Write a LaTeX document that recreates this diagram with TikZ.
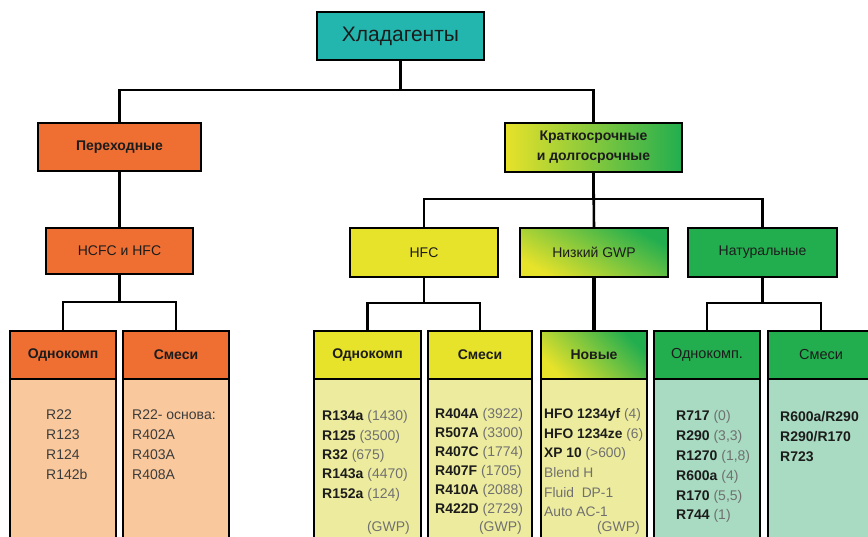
\documentclass[tikz,border=0pt]{standalone}
\usepackage{fontspec}
\setmainfont{Liberation Sans}

\definecolor{tealhdr}{HTML}{22B6AE}
\definecolor{orangehdr}{HTML}{EF6F33}
\definecolor{orangebody}{HTML}{F9C89C}
\definecolor{yellowhdr}{HTML}{E7E22A}
\definecolor{yellowbody}{HTML}{EDEC9E}
\definecolor{greenhdr}{HTML}{22AE4F}
\definecolor{greenbody}{HTML}{A8DBC1}
\definecolor{numgray}{HTML}{707070}
\definecolor{txtgray}{HTML}{3C3C3C}
\definecolor{inkdark}{HTML}{1C1C1C}

\newcommand{\refr}[2]{\textbf{#1} \textcolor{numgray}{#2}}

\tikzset{
  box/.style={draw, line width=2.6pt, minimum height=48pt, inner sep=0pt, outer sep=0pt, text=inkdark,
    font=\fontsize{14}{20}\selectfont},
  link/.style={line width=2.6pt},
  hdr/.style={box, minimum width=106pt, anchor=south, font=\fontsize{14}{16}\selectfont\bfseries},
  body/.style={box, minimum width=106pt, minimum height=180pt, anchor=north},
  listtext/.style={anchor=north west, inner sep=0pt, align=left, text=inkdark},
  gwpnote/.style={anchor=east, inner sep=0pt, text=numgray, font=\fontsize{14}{16}\selectfont},
}

\begin{document}
\begin{tikzpicture}[x=1pt, y=-1pt]
  \clip (0,0) rectangle (868,536);

  % upper levels
  \node[box, fill=tealhdr, minimum width=167pt, font=\fontsize{21}{24}\selectfont] (root) at (400.5,36) {Хладагенты};
  \node[box, fill=orangehdr, minimum width=163pt, font=\fontsize{14}{16}\selectfont\bfseries] (trans) at (119.5,147) {Переходные};
  \node[box, fill=orangehdr, minimum width=147pt, minimum height=46pt] (hcfc) at (119.5,251) {HCFC и HFC};
  \node[box, left color=yellowhdr, right color=greenhdr, minimum width=177pt, minimum height=49pt, align=center,
    font=\fontsize{14}{20}\selectfont\bfseries] (kd) at (593.5,147.5) {Краткосрочные\\и долгосрочные};
  \node[box, fill=yellowhdr, minimum width=148pt, minimum height=49pt] (hfc) at (424,252.5) {HFC};
  \node[box, left color=yellowhdr, middle color=greenhdr!85!yellowhdr, right color=greenhdr, shading angle=150,
    minimum width=148pt, minimum height=49pt] (gwp) at (594,252.5) {Низкий GWP};
  \node[box, fill=greenhdr, minimum width=149pt, minimum height=49pt] (nat) at (762.5,252.5) {Натуральные};

  % lower level: bodies first, headers on top
  \node[body, fill=orangebody] (ob1) at (63,379) {};
  \node[body, fill=orangebody] (ob2) at (176,379) {};
  \node[body, fill=yellowbody, minimum width=107pt] (yb1) at (367.5,379) {};
  \node[body, fill=yellowbody, minimum width=104pt] (yb2) at (480,379) {};
  \node[body, fill=yellowbody] (nb) at (594,379) {};
  \node[body, fill=greenbody] (gb1) at (707,379) {};
  \node[body, fill=greenbody] (gb2) at (821,379) {};

  \node[hdr, fill=orangehdr] (oh1) at (ob1.north) {Однокомп};
  \node[hdr, fill=orangehdr] (oh2) at (ob2.north) {Смеси};
  \node[hdr, fill=yellowhdr, minimum width=107pt] (yh1) at (yb1.north) {Однокомп};
  \node[hdr, fill=yellowhdr, minimum width=104pt] (yh2) at (yb2.north) {Смеси};
  \node[hdr, left color=yellowhdr, middle color=greenhdr!75!yellowhdr, right color=greenhdr, shading angle=135] (nh) at (nb.north) {Новые};
  \node[hdr, fill=greenhdr, font=\fontsize{14.5}{16}\selectfont] (gh1) at (gb1.north) {Однокомп.};
  \node[hdr, fill=greenhdr, font=\fontsize{14.5}{16}\selectfont] (gh2) at (gb2.north) {Смеси};

  % connectors
  \draw[link] (root.south) -- ++(0,30) -| (trans.north);
  \draw[link] (root.south) ++(0,30) -| (kd.north);
  \draw[link] (trans.south) -- (hcfc.north);
  \draw[link] (hcfc.south) -- ++(0,28) -| (oh1.north);
  \draw[link] (hcfc.south) ++(0,28) -| (oh2.north);
  \draw[link] (kd.south) -- ++(0,27) -| (hfc.north);
  \draw[link] (kd.south) ++(0,27) -| (nat.north);
  \draw[link] (kd.south) -- (gwp.north);
  \draw[link] (hfc.south) -- ++(0,26) -| (yh1.north);
  \draw[link] (hfc.south) ++(0,26) -| (yh2.north);
  \draw[link, line width=4.5pt] (gwp.south) -- (nh.north);
  \draw[link] (nat.south) -- ++(0,26) -| (gh1.north);
  \draw[link] (nat.south) ++(0,26) -| (gh2.north);

  % lists
  \node[listtext, text=txtgray, font=\fontsize{14}{20}\selectfont] (o1) at (46,409.5) {R22\\R123\\R124\\R142b};
  \node[listtext, text=txtgray, font=\fontsize{14}{20}\selectfont] (o2) at (132,409.5) {R22- основа:\\R402A\\R403A\\R408A};
  \node[listtext, font=\fontsize{14}{19.3}\selectfont] (y1) at (322,410.5)
    {\refr{R134a}{(1430)}\\\refr{R125}{(3500)}\\\refr{R32}{(675)}\\\refr{R143a}{(4470)}\\\refr{R152a}{(124)}};
  \node[listtext, font=\fontsize{14}{19}\selectfont] (y2) at (435,408.5)
    {\refr{R404A}{(3922)}\\\refr{R507A}{(3300)}\\\refr{R407C}{(1774)}\\\refr{R407F}{(1705)}\\\refr{R410A}{(2088)}\\\refr{R422D}{(2729)}};
  \node[listtext, font=\fontsize{13.8}{19.6}\selectfont] (n1) at (544,408.5)
    {\refr{HFO 1234yf}{(4)}\\\refr{HFO 1234ze}{(6)}\\\refr{XP 10}{(>600)}\\\textcolor{numgray}{Blend H}\\\textcolor{numgray}{Fluid\ \ DP-1}\\\textcolor{numgray}{Auto AC-1}};
  \node[listtext, font=\fontsize{14}{19.8}\selectfont] (g1) at (676,410.5)
    {\refr{R717}{(0)}\\\refr{R290}{(3,3)}\\\refr{R1270}{(1,8)}\\\refr{R600a}{(4)}\\\refr{R170}{(5,5)}\\\refr{R744}{(1)}};
  \node[listtext, font=\fontsize{14}{20}\selectfont\bfseries] (g2) at (780,411.5) {R600a/R290\\R290/R170\\R723};

  \node[gwpnote] (w1) at (410,528) {(GWP)};
  \node[gwpnote] (w2) at (522,528) {(GWP)};
  \node[gwpnote] (w3) at (640,528) {(GWP)};
\end{tikzpicture}
\end{document}
